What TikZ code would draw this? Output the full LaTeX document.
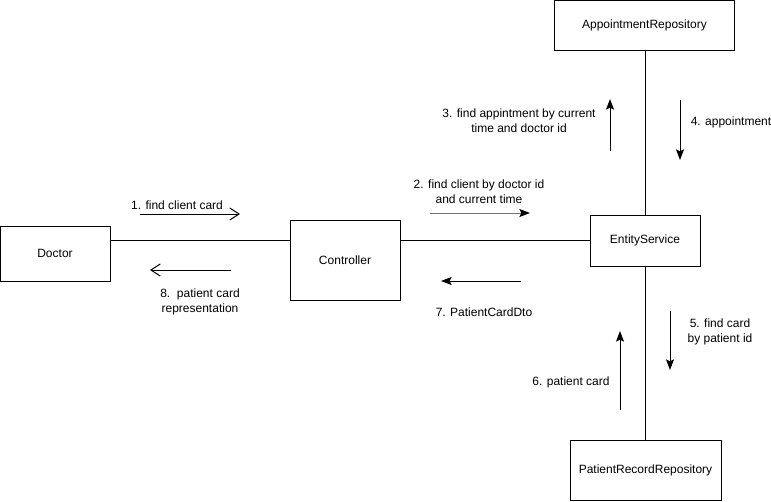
\documentclass[tikz,border=0pt]{standalone}
\usepackage{fontspec}
\setmainfont{Liberation Sans}
\usetikzlibrary{arrows.meta}
\begin{document}
\begin{tikzpicture}[x=0.75pt,y=-0.75pt,
  box/.style={draw,line width=0.75pt,fill=white,inner sep=0pt,font=\fontsize{9}{11}\selectfont},
  lbl/.style={font=\fontsize{9}{11}\selectfont,align=center,inner sep=0pt},
  conn/.style={line width=0.75pt},
  msg/.style={line width=0.75pt,-{Stealth[length=8pt,width=6pt,inset=1.5pt,color=black,fill=black]}},
  openmsg/.style={line width=0.75pt,-{Straight Barb[length=7pt,width=9pt]}}]
\useasboundingbox (0,0) rectangle (771,501);
\node[box,minimum width=110*0.75pt,minimum height=55*0.75pt] (doc) at (55,253.5) {Doctor};
\node[box,minimum width=110*0.75pt,minimum height=80*0.75pt] (ctl) at (345,260) {Controller};
\node[box,minimum width=110*0.75pt,minimum height=51*0.75pt] (ent) at (645,240.5) {EntityService};
\node[box,minimum width=180*0.75pt,minimum height=50*0.75pt] (app) at (644.5,25) {AppointmentRepository};
\node[box,minimum width=151*0.75pt,minimum height=60*0.75pt] (pat) at (645.5,470) {PatientRecordRepository};
\draw[conn] (doc.east |- 0,240) -- (ctl.west |- 0,240);
\draw[conn] (ctl.east |- 0,240) -- (ent.west |- 0,240);
\draw[conn] (ent.north) -- (app.south -| ent.north);
\draw[conn] (ent.south) -- (pat.north -| ent.south);
% messages
\coordinate (m1a) at (140,214); \coordinate (m1b) at (240,214);
\draw[openmsg] (m1a) -- (m1b);
\node[lbl] (l1) at (177,205) {1. find client card};
\coordinate (m8a) at (231,270); \coordinate (m8b) at (150,270);
\draw[openmsg] (m8a) -- (m8b);
\node[lbl] (l8) at (200,302) {8.\ \ patient card\\representation};
\coordinate (m2a) at (430,213); \coordinate (m2b) at (530,213);
\draw[msg,draw=gray!90!black] (m2a) -- (m2b);
\node[lbl] (l2) at (479,192) {2. find client by doctor id\\and current time};
\coordinate (m7a) at (521,281); \coordinate (m7b) at (441,281);
\draw[msg] (m7a) -- (m7b);
\node[lbl] (l7) at (484,312) {7. PatientCardDto};
\coordinate (m3a) at (610,151); \coordinate (m3b) at (610,99);
\draw[msg] (m3a) -- (m3b);
\node[lbl] (l3) at (519,121) {3. find appintment by current\\time and doctor id};
\coordinate (m4a) at (680,100); \coordinate (m4b) at (680,160);
\draw[msg] (m4a) -- (m4b);
\node[lbl] (l4) at (731,122) {4. appointment};
\coordinate (m5a) at (670,311); \coordinate (m5b) at (670,370);
\draw[msg] (m5a) -- (m5b);
\node[lbl] (l5) at (720,332) {5. find card\\by patient id};
\coordinate (m6a) at (620,410); \coordinate (m6b) at (620,331);
\draw[msg] (m6a) -- (m6b);
\node[lbl] (l6) at (571,382) {6. patient card};
\end{tikzpicture}
\end{document}
